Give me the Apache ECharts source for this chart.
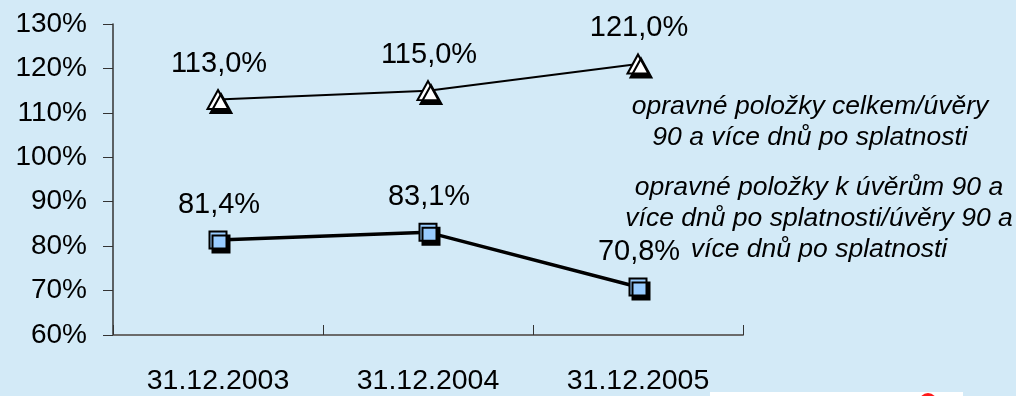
<!DOCTYPE html>
<html>
<head>
<meta charset="utf-8">
<script src="https://cdn.jsdelivr.net/npm/echarts@6/dist/echarts.min.js"></script>
<style>
  html, body { margin: 0; padding: 0; background: #D3EAF7; }
  #chart { width: 1016px; height: 396px; }
</style>
</head>
<body>
<div id="chart"></div>
<script>
// Dates of the observations
const categories = ['31.12.2003', '31.12.2004', '31.12.2005'];
// Ratios in percent
const totalProvisionsRatio = [113.0, 115.0, 121.0];
const overdueProvisionsRatio = [81.4, 83.1, 70.8];
// Y axis range and step, in percent
const yMin = 60;
const yMax = 130;
const yStep = 10;
// Series descriptions shown beside the lines
const totalProvisionsName = 'opravné položky celkem/úvěry\n90 a více dnů po splatnosti';
const overdueProvisionsName = 'opravné položky k úvěrům 90 a\nvíce dnů po splatnosti/úvěry 90 a\nvíce dnů po splatnosti';

const FONT = '"Liberation Sans", Arial, sans-serif';
const fmtPct = v => v.toFixed(1).replace('.', ',') + '%';

const chart = echarts.init(document.getElementById('chart'), null, { renderer: 'canvas' });

const labelStyle = {
  show: true,
  position: 'top',
  distance: 13,
  offset: [1, 2],
  fontFamily: FONT,
  fontSize: 29,
  color: '#000',
  formatter: p => fmtPct(p.value)
};

chart.setOption({
  backgroundColor: '#D3EAF7',
  animation: false,
  grid: { left: 113, right: 273, top: 24, bottom: 57, containLabel: false },
  xAxis: {
    type: 'category',
    data: categories,
    boundaryGap: true,
    axisLine: { lineStyle: { color: '#6b6b6b', width: 2 } },
    axisTick: { show: true, inside: true, length: 10, lineStyle: { color: '#333', width: 1 } },
    axisLabel: { margin: 32, fontFamily: FONT, fontSize: 28.5, color: '#000' },
    splitLine: { show: false }
  },
  yAxis: {
    type: 'value',
    min: yMin,
    max: yMax,
    interval: yStep,
    axisLine: { show: true, lineStyle: { color: '#333', width: 1.5 } },
    axisTick: { show: true, length: 10, lineStyle: { color: '#333', width: 1 } },
    axisLabel: {
      margin: 26,
      fontFamily: FONT,
      fontSize: 28,
      color: '#000',
      formatter: v => v + '%'
    },
    splitLine: { show: false }
  },
  series: [
    {
      name: totalProvisionsName,
      type: 'line',
      data: totalProvisionsRatio,
      symbol: 'triangle',
      symbolSize: [21, 19],
      lineStyle: { color: '#000', width: 2 },
      itemStyle: {
        color: '#ffffff',
        borderColor: '#000',
        borderWidth: 2,
        shadowColor: '#000',
        shadowBlur: 0,
        shadowOffsetX: 3,
        shadowOffsetY: 4
      },
      label: labelStyle,
      z: 3
    },
    {
      name: overdueProvisionsName,
      type: 'line',
      data: overdueProvisionsRatio,
      symbol: 'rect',
      symbolSize: 17,
      lineStyle: { color: '#000', width: 3.5 },
      itemStyle: {
        color: '#99CCFF',
        borderColor: '#000',
        borderWidth: 2,
        shadowColor: '#000',
        shadowBlur: 0,
        shadowOffsetX: 3,
        shadowOffsetY: 4
      },
      label: labelStyle,
      z: 3
    }
  ],
  graphic: [
    {
      type: 'text',
      x: 810, y: 122,
      style: {
        text: totalProvisionsName,
        font: 'italic 26.5px ' + FONT,
        fill: '#000',
        align: 'center',
        verticalAlign: 'middle',
        lineHeight: 31
      }
    },
    {
      type: 'text',
      x: 819, y: 219,
      style: {
        text: overdueProvisionsName,
        font: 'italic 26.5px ' + FONT,
        fill: '#000',
        align: 'center',
        verticalAlign: 'middle',
        lineHeight: 31
      }
    },
    // footer strip with logo edge at the bottom right
    {
      type: 'rect',
      shape: { x: 710, y: 392, width: 253, height: 8 },
      style: { fill: '#ffffff' },
      silent: true
    },
    {
      type: 'circle',
      shape: { cx: 928, cy: 402, r: 9 },
      style: { fill: '#ff1a1a' },
      silent: true
    }
  ]
});
</script>
</body>
</html>
